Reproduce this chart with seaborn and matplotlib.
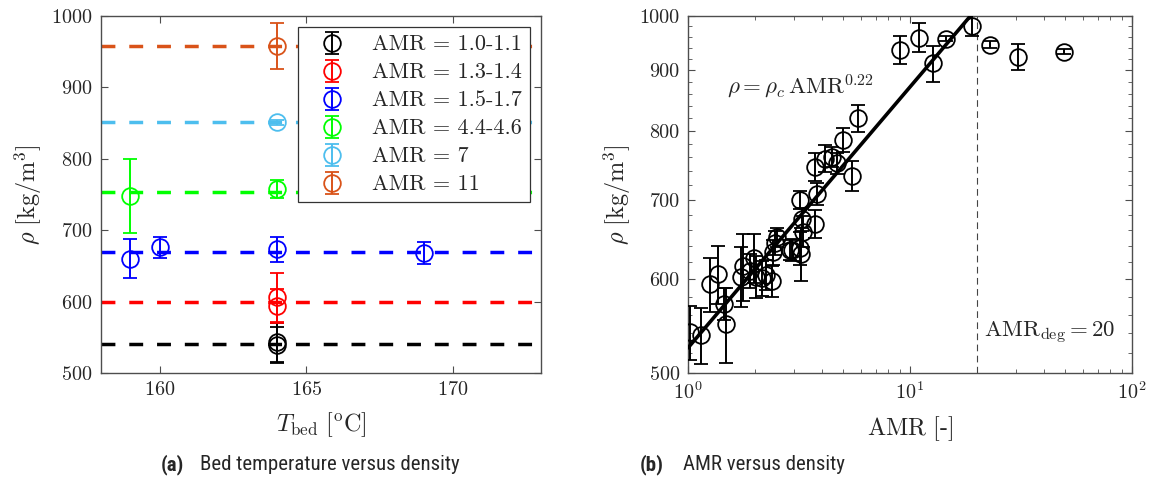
import numpy as np
import pandas as pd
import matplotlib
matplotlib.use("Agg")
import matplotlib.pyplot as plt
import seaborn as sns
from matplotlib.ticker import FixedLocator, FuncFormatter, LogLocator, NullFormatter

# ---------------- data: panel (a) ----------------
group_labels = ["AMR = 1.0-1.1", "AMR = 1.3-1.4", "AMR = 1.5-1.7",
                "AMR = 4.4-4.6", "AMR = 7", "AMR = 11"]
group_colors = ["#000000", "#FF0000", "#0000FF", "#00FF00", "#4DBEEE", "#D95319"]
group_mean_rho = [541, 600, 669, 753, 851, 958]

t_bed_g1 = [164, 164];            rho_g1 = [543, 539];            err_g1 = [27, 25]
t_bed_g2 = [164, 164];            rho_g2 = [606, 594];            err_g2 = [34, 24]
t_bed_g3 = [159, 160, 164, 169];  rho_g3 = [660, 676, 673, 668];  err_g3 = [27, 15, 17, 15]
t_bed_g4 = [159, 164];            rho_g4 = [748, 758];            err_g4 = [52, 13]
t_bed_g5 = [164];                 rho_g5 = [851];                 err_g5 = [3]
t_bed_g6 = [164];                 rho_g6 = [958];                 err_g6 = [32]

# ---------------- data: panel (b) ----------------
amr = [1.02, 1.14, 1.25, 1.36, 1.45, 1.48, 1.74, 1.77, 1.98, 2.02,
       2.15, 2.38, 2.47, 2.51, 2.42, 2.88, 3.20, 3.25, 3.28, 3.20,
       3.73, 3.83, 3.73, 4.14, 4.44, 4.70, 5.46, 4.97, 5.85, 9.0,
       11.0, 12.7, 14.6, 19.0, 23.0, 30.7, 49.5, 3.22, 2.93, 1.90,
       2.25]
rho = [541, 538, 594, 606, 572, 550, 603, 615, 625, 603,
       601, 598, 644, 651, 632, 635, 637, 674, 658, 700,
       668, 708, 746, 758, 761, 751, 733, 786, 820, 936,
       959, 912, 957, 981, 946, 924, 933, 630, 635, 610,
       605]
rho_err = [28, 29, 31, 34, 18, 40, 35, 40, 30, 25,
           20, 18, 15, 12, 15, 12, 20, 15, 20, 12,
           18, 15, 20, 20, 15, 15, 21, 18, 22, 25,
           27, 32, 5, 20, 6, 24, 5, 32, 14, 20,
           18]
rho_c = 525
fit_exponent = 0.22
amr_deg = 20

# ---------------- style ----------------
sns.set_theme(style="ticks")
plt.rcParams["font.family"] = ["cmr10", "DejaVu Serif"]
plt.rcParams["mathtext.fontset"] = "cm"
plt.rcParams["axes.unicode_minus"] = False
plt.rcParams["axes.formatter.use_mathtext"] = True

SPINE = "#4d4d4d"
FS = 14.5      # tick labels
FS_LAB = 17.5  # axis labels
FS_TXT = 16.5  # annotations / legend

fig = plt.figure(figsize=(11.52, 4.92), dpi=100)
ax1 = fig.add_axes([101 / 1152, 1 - 373 / 492, 440 / 1152, 357 / 492])
ax2 = fig.add_axes([688 / 1152, 1 - 373 / 492, 444 / 1152, 357 / 492])

def style_axes(ax):
    for s in ax.spines.values():
        s.set_visible(True)
        s.set_color(SPINE)
        s.set_linewidth(1.0)
    ax.tick_params(which="both", direction="in", top=True, right=True,
                   color=SPINE, labelsize=FS, pad=6)
    ax.tick_params(which="major", length=5, width=0.8)
    ax.tick_params(which="minor", length=3, width=0.6)
    ax.set_facecolor("white")

# ---------------- panel (a) ----------------
xlim_a = [158, 173]
groups = [(t_bed_g1, rho_g1, err_g1), (t_bed_g2, rho_g2, err_g2),
          (t_bed_g3, rho_g3, err_g3), (t_bed_g4, rho_g4, err_g4),
          (t_bed_g5, rho_g5, err_g5), (t_bed_g6, rho_g6, err_g6)]
handles = []
for (tx, ry, ey), col, lab, mean in zip(groups, group_colors, group_labels, group_mean_rho):
    h = ax1.errorbar(tx, ry, yerr=ey, fmt="o", mfc="none", mec=col, ecolor=col,
                     ms=12, mew=1.3, elinewidth=1.4, capsize=5, capthick=1.4,
                     label=lab, zorder=3)
    handles.append(h)
    line_df = pd.DataFrame({"x": xlim_a, "y": [mean, mean]})
    sns.lineplot(data=line_df, x="x", y="y", ax=ax1, color=col, lw=2.5,
                 dashes=False, zorder=2, legend=False).lines[-1].set_dashes([4.0, 4.0])

ax1.set_xlim(*xlim_a)
ax1.set_ylim(500, 1000)
ax1.xaxis.set_major_locator(FixedLocator([160, 165, 170]))
ax1.yaxis.set_major_locator(FixedLocator([500, 600, 700, 800, 900, 1000]))
ax1.set_xlabel(r"$T_{\rm bed}\ [^{\rm o}{\rm C}]$", fontsize=FS_LAB, labelpad=8)
ax1.set_ylabel(r"$\rho\ [{\rm kg/m^3}]$", fontsize=FS_LAB, labelpad=5)
style_axes(ax1)
leg = ax1.legend(handles=handles, loc="upper right", bbox_to_anchor=(1, 1),
                 fontsize=16, frameon=True, fancybox=False, handlelength=2.4,
                 handletextpad=0.6, borderpad=0.35, labelspacing=0.38, borderaxespad=0.5)
leg.get_frame().set_edgecolor("#333333")
leg.get_frame().set_linewidth(0.9)
leg.get_frame().set_alpha(1)

# ---------------- panel (b) ----------------
ax2.set_xscale("log")
ax2.set_yscale("log")
ax2.errorbar(amr, rho, yerr=rho_err, fmt="o", mfc="none", mec="black", ecolor="black",
             ms=12, mew=1.3, elinewidth=1.4, capsize=5, capthick=1.4, zorder=3)
fit_x = np.logspace(0, np.log10(amr_deg), 50)
fit_df = pd.DataFrame({"x": fit_x, "y": rho_c * fit_x ** fit_exponent})
sns.lineplot(data=fit_df, x="x", y="y", ax=ax2, color="black", lw=2.6, zorder=4)
ax2.axvline(amr_deg, color="#444444", lw=0.8, ls=(0, (6, 4)), zorder=1)
ax2.text(1.5, 872, r"$\rho = \rho_c\,\mathrm{AMR}^{0.22}$", fontsize=FS_TXT,
         ha="left", va="center")
ax2.text(21.5, 540, r"$\mathrm{AMR}_{\mathrm{deg}} = 20$", fontsize=FS_TXT,
         ha="left", va="center")
ax2.set_xlim(1, 100)
ax2.set_ylim(500, 1000)
ax2.xaxis.set_major_locator(FixedLocator([1, 10, 100]))
ax2.xaxis.set_major_formatter(FuncFormatter(lambda v, p: r"$10^{%d}$" % round(np.log10(v))))
ax2.xaxis.set_minor_locator(LogLocator(base=10, subs=np.arange(2, 10)))
ax2.xaxis.set_minor_formatter(NullFormatter())
ax2.yaxis.set_major_locator(FixedLocator([500, 600, 700, 800, 900, 1000]))
ax2.yaxis.set_major_formatter(FuncFormatter(lambda v, p: "%d" % v))
ax2.yaxis.set_minor_locator(FixedLocator(np.arange(500, 1001, 20)))
ax2.yaxis.set_minor_formatter(NullFormatter())
ax2.set_xlabel(r"$\mathrm{AMR}\ [\text{-}]$", fontsize=FS_LAB, labelpad=8)
ax2.set_ylabel(r"$\rho\ [{\rm kg/m^3}]$", fontsize=FS_LAB, labelpad=5)
style_axes(ax2)

# ---------------- captions ----------------
cap_font = ["Roboto Condensed", "Roboto", "DejaVu Sans"]
CAP_FS = 15
fig.text(0.1395, 0.055, "(a)", fontsize=CAP_FS, fontweight="bold", family=cap_font,
         ha="left", va="center")
fig.text(0.1735, 0.055, "Bed temperature versus density", fontsize=CAP_FS, family=cap_font,
         ha="left", va="center")
fig.text(0.5555, 0.055, "(b)", fontsize=CAP_FS, fontweight="bold", family=cap_font,
         ha="left", va="center")
fig.text(0.5925, 0.055, "AMR versus density", fontsize=CAP_FS, family=cap_font,
         ha="left", va="center")

fig.savefig("out.png", dpi=100)
